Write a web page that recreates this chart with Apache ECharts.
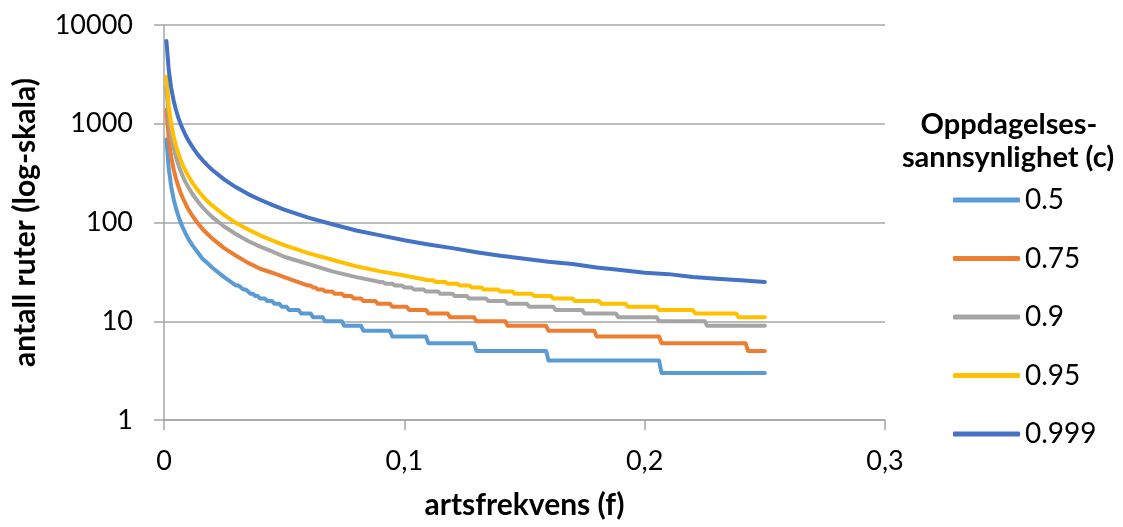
<!DOCTYPE html>
<html>
<head>
<meta charset="utf-8">
<script src="https://cdn.jsdelivr.net/npm/echarts@6/dist/echarts.min.js"></script>
<style>
html,body{margin:0;padding:0;background:#fff;}
#chart{width:1123px;height:527px;}
</style>
</head>
<body>
<div id="chart"></div>
<script>
// Legend labels (detection probability c)
const seriesNames = ['0.5', '0.75', '0.9', '0.95', '0.999'];
const xTickLabels = ['0', '0,1', '0,2', '0,3'];
const yTickLabels = ['1', '10', '100', '1000', '10000'];
const xAxisTitle = 'artsfrekvens (f)';
const yAxisTitle = 'antall ruter (log-skala)';
const legendTitle1 = 'Oppdagelses-';
const legendTitle2 = 'sannsynlighet (c)';

// [f, antall ruter]
const c05 = [[0.001,693],[0.002,347],[0.003,231],[0.004,173],[0.005,139],[0.006,116],[0.007,99],[0.008,87],[0.009,77],[0.01,69],[0.012,58],[0.014,50],[0.016,43],[0.018,39],[0.02,35],[0.025,28],[0.03,23],[0.031,23],[0.032,22],[0.033,21],[0.034,21],[0.035,20],[0.036,19],[0.037,19],[0.038,18],[0.039,18],[0.04,17],[0.042,17],[0.043,16],[0.045,16],[0.046,15],[0.048,15],[0.049,14],[0.051,14],[0.052,13],[0.056,13],[0.057,12],[0.061,12],[0.062,11],[0.066,11],[0.067,10],[0.074,10],[0.075,9],[0.082,9],[0.083,8],[0.094,8],[0.095,7],[0.109,7],[0.11,6],[0.129,6],[0.13,5],[0.159,5],[0.16,4],[0.206,4],[0.207,3],[0.25,3]];
const c075 = [[0.001,1386],[0.002,693],[0.003,462],[0.004,346],[0.005,277],[0.006,231],[0.007,198],[0.008,173],[0.009,154],[0.01,138],[0.012,115],[0.014,99],[0.016,86],[0.018,77],[0.02,69],[0.025,55],[0.03,46],[0.035,39],[0.04,34],[0.045,31],[0.05,28],[0.06,23],[0.061,23],[0.062,22],[0.063,22],[0.064,21],[0.066,21],[0.067,20],[0.07,20],[0.071,19],[0.074,19],[0.075,18],[0.078,18],[0.079,17],[0.082,17],[0.083,16],[0.088,16],[0.089,15],[0.094,15],[0.095,14],[0.101,14],[0.102,13],[0.109,13],[0.11,12],[0.118,12],[0.119,11],[0.129,11],[0.13,10],[0.142,10],[0.143,9],[0.159,9],[0.16,8],[0.179,8],[0.18,7],[0.206,7],[0.207,6],[0.242,6],[0.243,5],[0.25,5]];
const c09 = [[0.001,2302],[0.002,1151],[0.003,767],[0.004,575],[0.005,460],[0.006,383],[0.007,328],[0.008,287],[0.009,255],[0.01,230],[0.012,191],[0.014,164],[0.016,143],[0.018,127],[0.02,114],[0.025,91],[0.03,76],[0.035,65],[0.04,57],[0.045,51],[0.05,45],[0.06,38],[0.07,32],[0.08,28],[0.09,25],[0.091,25],[0.092,24],[0.095,24],[0.096,23],[0.099,23],[0.1,22],[0.103,22],[0.104,21],[0.108,21],[0.109,20],[0.114,20],[0.115,19],[0.12,19],[0.121,18],[0.126,18],[0.127,17],[0.134,17],[0.135,16],[0.142,16],[0.143,15],[0.151,15],[0.152,14],[0.162,14],[0.163,13],[0.174,13],[0.175,12],[0.188,12],[0.189,11],[0.205,11],[0.206,10],[0.225,10],[0.226,9],[0.25,9]];
const c095 = [[0.001,2995],[0.002,1497],[0.003,998],[0.004,748],[0.005,598],[0.006,498],[0.007,427],[0.008,373],[0.009,332],[0.01,299],[0.012,249],[0.014,213],[0.016,186],[0.018,165],[0.02,149],[0.025,119],[0.03,99],[0.035,85],[0.04,74],[0.045,66],[0.05,59],[0.06,49],[0.07,42],[0.08,36],[0.09,32],[0.1,29],[0.11,26],[0.112,26],[0.113,25],[0.117,25],[0.118,24],[0.122,24],[0.123,23],[0.127,23],[0.128,22],[0.132,22],[0.133,21],[0.139,21],[0.14,20],[0.145,20],[0.146,19],[0.153,19],[0.154,18],[0.161,18],[0.162,17],[0.17,17],[0.171,16],[0.181,16],[0.182,15],[0.192,15],[0.193,14],[0.205,14],[0.206,13],[0.22,13],[0.221,12],[0.238,12],[0.239,11],[0.25,11]];
const c0999 = [[0.001,6905],[0.002,3451],[0.003,2300],[0.004,1724],[0.005,1379],[0.006,1148],[0.007,984],[0.008,861],[0.009,765],[0.01,688],[0.012,573],[0.014,490],[0.016,429],[0.018,381],[0.02,342],[0.025,273],[0.03,227],[0.035,194],[0.04,170],[0.045,151],[0.05,135],[0.06,112],[0.07,96],[0.08,83],[0.09,74],[0.1,66],[0.11,60],[0.12,55],[0.13,50],[0.14,46],[0.15,43],[0.16,40],[0.17,38],[0.18,35],[0.19,33],[0.2,31],[0.21,30],[0.22,28],[0.23,27],[0.24,26],[0.25,25]];

const seriesData = [c05, c075, c09, c095, c0999];
const colors = ['#5B9BD5', '#ED7D31', '#A5A5A5', '#FFC000', '#4472C4'];
const FONT = 'Lato';
const gridColor = '#a6a6a6';

const chart = echarts.init(document.getElementById('chart'), null, {renderer: 'canvas'});
chart.setOption({
  animation: false,
  backgroundColor: '#ffffff',
  color: colors,
  textStyle: {fontFamily: FONT, color: '#000'},
  grid: {left: 164, right: 238, top: 25, bottom: 107, containLabel: false},
  xAxis: {
    type: 'value', min: 0, max: 0.3, interval: 0.1,
    name: xAxisTitle, nameLocation: 'middle', nameGap: 70,
    nameTextStyle: {fontFamily: FONT, fontWeight: 'bold', fontSize: 30, color: '#000'},
    axisLine: {show: true, lineStyle: {color: gridColor, width: 1.5}},
    axisTick: {show: true, length: 10, lineStyle: {color: gridColor, width: 1.5}},
    axisLabel: {margin: 28, fontSize: 27, color: '#000', fontFamily: FONT,
      formatter: v => xTickLabels[Math.round(v * 10)]},
    splitLine: {show: false}
  },
  yAxis: {
    type: 'log', logBase: 10, min: 1, max: 10000,
    name: yAxisTitle, nameLocation: 'middle', nameGap: 124, nameRotate: 90,
    nameTextStyle: {fontFamily: FONT, fontWeight: 'bold', fontSize: 30, color: '#000'},
    axisLine: {show: true, lineStyle: {color: gridColor, width: 1.5}},
    axisTick: {show: true, length: 10, lineStyle: {color: gridColor, width: 1.5}},
    axisLabel: {margin: 31, fontSize: 27, color: '#000', fontFamily: FONT,
      formatter: v => yTickLabels[Math.round(Math.log10(v))]},
    splitLine: {show: true, lineStyle: {color: gridColor, width: 1.5}},
    minorTick: {show: false}
  },
  legend: {
    orient: 'vertical', left: 953, top: 186, padding: 0,
    itemWidth: 67, itemHeight: 5, itemGap: 30.5,
    icon: 'roundRect',
    data: seriesNames,
    textStyle: {fontFamily: FONT, fontSize: 28, color: '#000', lineHeight: 28}
  },
  graphic: [
    {type: 'text', x: 1009, y: 125, style: {text: legendTitle1, font: 'bold 29px ' + FONT, fill: '#000', textAlign: 'center', textVerticalAlign: 'middle'}},
    {type: 'text', x: 1008, y: 158, style: {text: legendTitle2, font: 'bold 29px ' + FONT, fill: '#000', textAlign: 'center', textVerticalAlign: 'middle'}}
  ],
  series: seriesNames.map((name, i) => ({
    name: name,
    type: 'line',
    data: seriesData[i],
    showSymbol: false,
    symbol: 'none',
    lineStyle: {color: colors[i], width: 4, cap: 'round', join: 'round'},
    itemStyle: {color: colors[i]},
    z: 2 + i
  }))
});
</script>
</body>
</html>
